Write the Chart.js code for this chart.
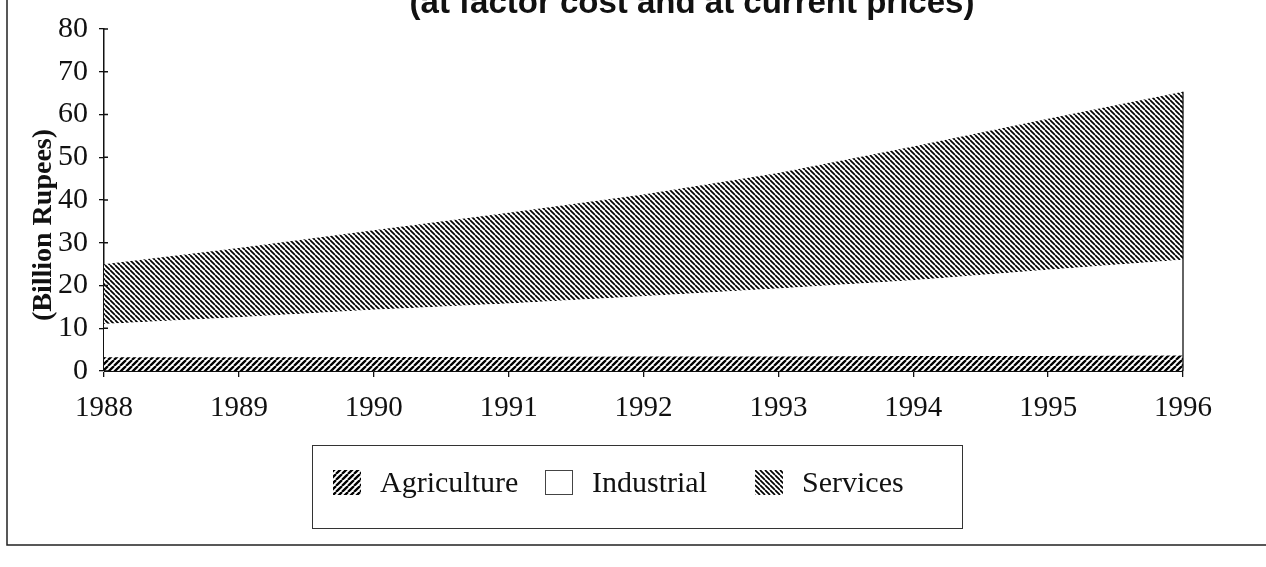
<!DOCTYPE html>
<html>
<head>
<meta charset="utf-8">
<script src="https://cdn.jsdelivr.net/npm/chart.js@4.4.1/dist/chart.umd.min.js"></script>
<style>
    body { margin: 0; background: #fff; }
    canvas { display: block; }
</style>
</head>
<body>
<canvas id="gdp-chart" width="1266" height="567"></canvas>
<script>
var years = ['1988', '1989', '1990', '1991', '1992', '1993', '1994', '1995', '1996'];
var agriculture = [3.2, 3.2, 3.3, 3.3, 3.4, 3.4, 3.5, 3.5, 3.6];
var industrial = [7.8, 9.4, 11.0, 12.5, 14.1, 15.9, 17.7, 20.2, 22.4];
var services = [14.0, 16.2, 18.6, 21.2, 23.8, 27.0, 31.3, 35.3, 39.3];
var yTicks = [0, 10, 20, 30, 40, 50, 60, 70, 80];

var title = '(at factor cost and at current prices)';
var yLabel = '(Billion Rupees)';

var ctx = document.getElementById('gdp-chart').getContext('2d');

// diagonal hatch, dir 1 = "/", dir -1 = "\"
var hatch = function (size, width, dir) {
    var c = document.createElement('canvas');
    c.width = c.height = size;
    var g = c.getContext('2d');
    g.fillStyle = '#fff';
    g.fillRect(0, 0, size, size);
    g.strokeStyle = '#000';
    g.lineWidth = width;
    g.beginPath();
    for (var k = -1; k <= 1; k++) {
        if (dir > 0) {
            g.moveTo(k * size, size);
            g.lineTo(k * size + size, 0);
        } else {
            g.moveTo(k * size, 0);
            g.lineTo(k * size + size, size);
        }
    }
    g.stroke();
    return ctx.createPattern(c, 'repeat');
};

var agriPattern = hatch(6, 2.3, 1);
var servPattern = hatch(5, 1.7, -1);

var serif = "'Liberation Serif', 'Times New Roman', serif";

var decorations = {
    id: 'decorations',
    afterDraw: function (chart) {
        var c = chart.ctx;
        var x = chart.scales.x, y = chart.scales.y;
        c.save();

        // title line (top of it is cut off in the original)
        c.fillStyle = '#111';
        c.font = "bold 33px 'Liberation Sans', Arial, sans-serif";
        c.textAlign = 'center';
        c.textBaseline = 'alphabetic';
        c.fillText(title, 692, 13);

        // rotated y label
        c.save();
        c.translate(44, 225);
        c.rotate(-Math.PI / 2);
        c.font = 'bold 28px ' + serif;
        c.textBaseline = 'middle';
        c.fillText(yLabel, 0, 0);
        c.restore();

        // inner part of the y tick marks
        c.strokeStyle = '#111';
        c.lineWidth = 1.3;
        c.beginPath();
        yTicks.forEach(function (v) {
            var py = y.getPixelForValue(v);
            c.moveTo(x.left, py);
            c.lineTo(x.left + 4, py);
        });
        // right edge of the stacked areas
        var last = years.length - 1;
        var topY = chart.getDatasetMeta(2).data[last].y;
        var rx = x.getPixelForValue(last);
        c.moveTo(rx, topY);
        c.lineTo(rx, y.bottom);
        c.stroke();

        // legend
        var lx = [333, 545, 755];
        c.lineWidth = 1;
        c.strokeStyle = '#333';
        c.strokeRect(312.5, 445.5, 650, 83);
        c.font = '30px ' + serif;
        c.textAlign = 'left';
        c.textBaseline = 'middle';
        chart.data.datasets.forEach(function (ds, i) {
            c.fillStyle = ds.backgroundColor;
            c.fillRect(lx[i], 470, 28, 25);
            if (i === 1) {
                c.strokeStyle = '#444';
                c.strokeRect(lx[i] + 0.5, 470.5, 27, 24);
            }
            c.fillStyle = '#111';
            c.fillText(ds.label, lx[i] + 47, 484);
        });

        // outer frame
        c.strokeStyle = '#222';
        c.lineWidth = 1.5;
        c.beginPath();
        c.moveTo(7, 0);
        c.lineTo(7, 545);
        c.lineTo(1266, 545);
        c.stroke();
        c.restore();
    }
};

var gdpChart = new Chart(ctx, {
    type: 'line',
    data: {
        labels: years,
        datasets: [{
            label: 'Agriculture',
            data: agriculture,
            backgroundColor: agriPattern,
            fill: 'origin'
        }, {
            label: 'Industrial',
            data: industrial,
            backgroundColor: '#ffffff',
            fill: '-1'
        }, {
            label: 'Services',
            data: services,
            backgroundColor: servPattern,
            fill: '-1'
        }]
    },
    options: {
        responsive: false,
        animation: false,
        events: [],
        layout: { padding: { left: 0, right: 83, top: 21, bottom: 136 } },
        elements: {
            line: { borderWidth: 0, tension: 0 },
            point: { radius: 0 }
        },
        plugins: {
            legend: { display: false },
            tooltip: { enabled: false }
        },
        scales: {
            x: {
                grid: { drawOnChartArea: false, tickLength: 6, color: '#111', lineWidth: 1.3 },
                border: { display: true, color: '#111', width: 1 },
                ticks: { font: { family: serif, size: 29 }, color: '#111', padding: 14, maxRotation: 0 },
                afterFit: function (s) { s.height = 60; }
            },
            y: {
                stacked: true,
                min: 0,
                max: 80,
                grid: { drawOnChartArea: false, tickLength: 5, color: '#111', lineWidth: 1.3 },
                border: { display: true, color: '#111', width: 1.5 },
                ticks: { stepSize: 10, font: { family: serif, size: 30 }, color: '#111', padding: 11 },
                afterFit: function (s) { s.width = 104; }
            }
        }
    },
    plugins: [decorations]
});
</script>
</body>
</html>
